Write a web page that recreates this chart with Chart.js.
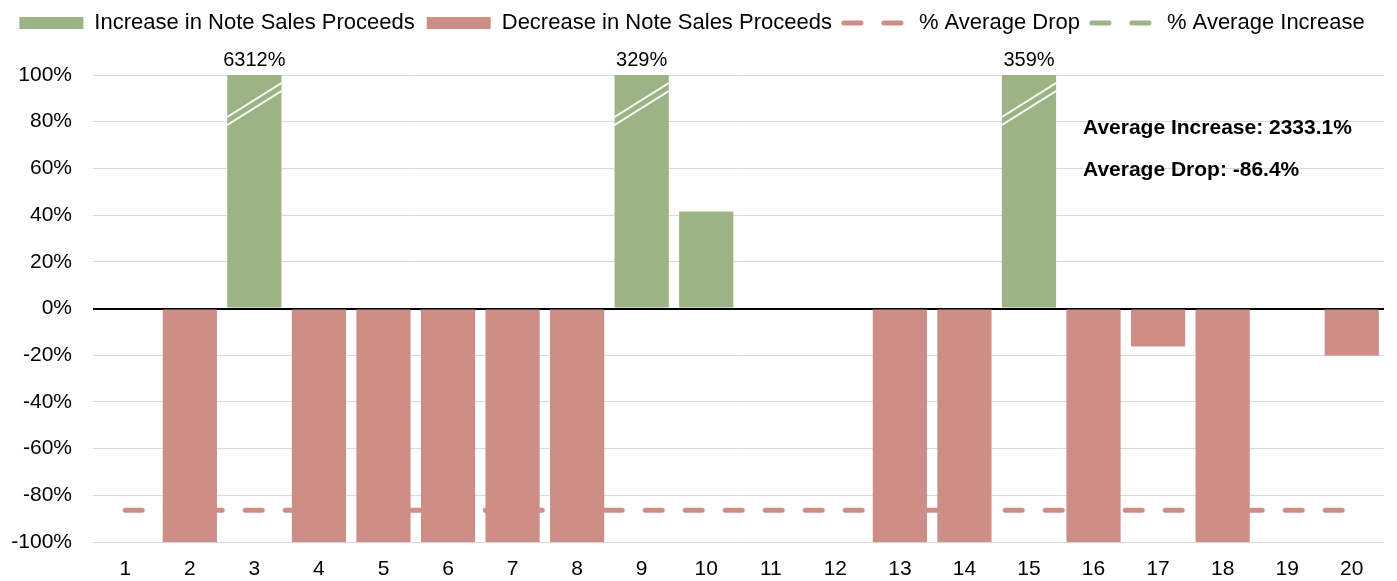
<!DOCTYPE html>
<html>
<head>
<meta charset="utf-8">
<script src="https://cdn.jsdelivr.net/npm/chart.js@4.4.1/dist/chart.umd.min.js"></script>
<style>
html,body{margin:0;padding:0;background:#fff;}
#wrap{width:1397px;height:581px;}
</style>
</head>
<body>
<div id="wrap"><canvas id="myChart" width="1397" height="581"></canvas></div>
<script>
//datos de la grafica
var categorias = ['1','2','3','4','5','6','7','8','9','10','11','12','13','14','15','16','17','18','19','20'];
var subidas = [null,null,6312,null,null,null,null,null,329,41.5,null,null,null,null,359,null,null,null,null,null];
var bajadas = [null,-100,null,-100,-100,-100,-100,-100,null,null,null,null,-100,-100,null,-100,-16.3,-100,null,-20.1];
var mediaBajada = -86.4;
var mediaSubida = 2333.1;
var ejeY = [-100, 100, 20]; //min, max, paso

var verde = '#9cb484';
var rojo = '#cd8e88';
var fuente = "'Liberation Sans', Arial, sans-serif";

//lineas de media, una por categoria
var lineaBajada = categorias.map(function(){ return mediaBajada; });
var lineaSubida = categorias.map(function(){ return mediaSubida; });

//etiquetas, cortes de barra y texto de medias
var extras = {
    id: 'extras',
    afterInit: function(chart){
        //altura fija de la leyenda para dejar sitio a las etiquetas
        var leyenda = chart.legend;
        var fitOriginal = leyenda.fit;
        leyenda.fit = function(){
            fitOriginal.call(this);
            this.height = 75;
        };
    },
    afterDatasetsDraw: function(chart){
        var c = chart.ctx;
        var area = chart.chartArea;
        var meta = chart.getDatasetMeta(0);
        c.save();
        for(var i=0;i<subidas.length;i++){
            if(subidas[i] !== null && subidas[i] > ejeY[1]){
                var bar = meta.data[i];
                var izq = bar.x - bar.width/2;
                var der = bar.x + bar.width/2;
                //marcas de corte
                c.strokeStyle = '#fff';
                c.lineWidth = 2;
                c.beginPath();
                c.moveTo(izq, area.top + 42);
                c.lineTo(der, area.top + 8);
                c.moveTo(izq, area.top + 50);
                c.lineTo(der, area.top + 16);
                c.stroke();
                //valor real
                c.fillStyle = '#000';
                c.font = "20px " + fuente;
                c.textAlign = 'center';
                c.textBaseline = 'alphabetic';
                c.fillText(subidas[i] + '%', bar.x, area.top - 9);
            }
        }
        c.fillStyle = '#000';
        c.font = "bold 21px " + fuente;
        c.textAlign = 'left';
        c.textBaseline = 'middle';
        c.fillText('Average Increase: ' + mediaSubida.toFixed(1) + '%', area.right - 301, area.top + 53);
        c.fillText('Average Drop: ' + mediaBajada.toFixed(1) + '%', area.right - 301, area.top + 95);
        c.restore();
    }
};

var ctx = document.getElementById('myChart').getContext('2d');
var myChart = new Chart(ctx, {
    type: 'bar',
    data: {
        labels: categorias,
        datasets: [{
            label: 'Increase in Note Sales Proceeds',
            data: subidas,
            backgroundColor: verde,
            borderWidth: 0,
            grouped: false,
            categoryPercentage: 0.84,
            barPercentage: 1,
            pointStyle: 'rect',
            order: 1
        },{
            label: 'Decrease in Note Sales Proceeds',
            data: bajadas,
            backgroundColor: rojo,
            borderWidth: 0,
            grouped: false,
            categoryPercentage: 0.84,
            barPercentage: 1,
            pointStyle: 'rect',
            order: 1
        },{
            type: 'line',
            label: '% Average Drop',
            data: lineaBajada,
            borderColor: rojo,
            backgroundColor: rojo,
            borderWidth: 5,
            borderDash: [17, 23],
            borderCapStyle: 'round',
            pointRadius: 0,
            pointStyle: 'line',
            fill: false,
            order: 2
        },{
            type: 'line',
            label: '% Average Increase',
            data: lineaSubida,
            borderColor: verde,
            backgroundColor: verde,
            borderWidth: 5,
            borderDash: [17, 23],
            borderCapStyle: 'round',
            pointRadius: 0,
            pointStyle: 'line',
            fill: false,
            order: 2
        }]
    },
    options: {
        responsive: false,
        animation: false,
        devicePixelRatio: 1,
        layout: { padding: { top: 0, right: 13, bottom: 0, left: 0 } },
        plugins: {
            legend: {
                position: 'top',
                labels: {
                    usePointStyle: true,
                    pointStyleWidth: 64,
                    boxHeight: 12,
                    padding: 12,
                    color: '#000',
                    font: { size: 22, family: fuente },
                    generateLabels: function(chart){
                        var items = Chart.defaults.plugins.legend.labels.generateLabels(chart);
                        items.forEach(function(it){
                            var ds = chart.data.datasets[it.datasetIndex];
                            if(ds.type === 'line'){
                                it.lineDash = ds.borderDash;
                                it.lineDashOffset = 0;
                                it.lineWidth = ds.borderWidth;
                                it.lineCap = 'round';
                                it.strokeStyle = ds.borderColor;
                            }
                        });
                        return items;
                    }
                }
            },
            tooltip: { enabled: false }
        },
        scales: {
            x: {
                grid: { display: false },
                border: { display: false },
                ticks: { color: '#000', padding: 7, font: { size: 21, family: fuente } },
                afterFit: function(s){ s.height = 39; }
            },
            y: {
                min: ejeY[0],
                max: ejeY[1],
                border: { display: false },
                grid: {
                    drawTicks: false,
                    color: function(c){ return c.tick && c.tick.value === 0 ? '#000' : '#d9d9d9'; },
                    lineWidth: function(c){ return c.tick && c.tick.value === 0 ? 2 : 1; }
                },
                ticks: {
                    stepSize: ejeY[2],
                    color: '#000',
                    padding: 21,
                    font: { size: 21, family: fuente },
                    callback: function(v){ return v + '%'; }
                },
                afterFit: function(s){ s.width = 93; }
            }
        }
    },
    plugins: [extras]
});
</script>
</body>
</html>
